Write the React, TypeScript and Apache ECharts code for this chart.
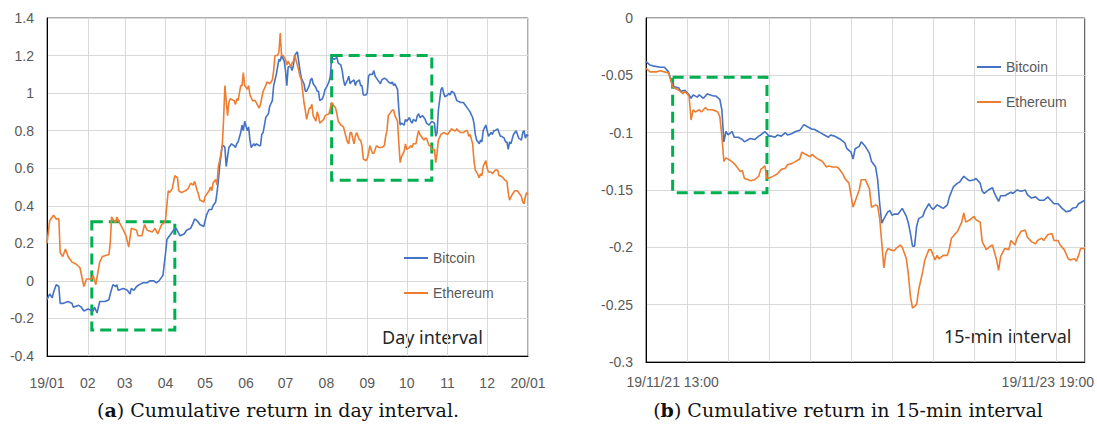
import React, { useEffect, useRef } from "react";
import * as echarts from "echarts";

// ---------- Panel (a): daily cumulative return, 2019-01-01 .. 2020-01-01 (day index) ----------
const dayMonthStarts = [0, 31, 59, 90, 120, 151, 181, 212, 243, 273, 304, 334, 365];
const dayTickText = ["19/01", "02", "03", "04", "05", "06", "07", "08", "09", "10", "11", "12", "20/01"];
const dayCategories = Array.from({ length: 366 }, (_, i) => String(i));

const btcDay = [
  [0,-0.10],[2,-0.07],[4,-0.09],[5,-0.06],[7,-0.02],[9,-0.03],[10,-0.12],[12,-0.12],[16,-0.11],[19,-0.12],
  [20,-0.14],[24,-0.13],[26,-0.14],[28,-0.16],[31,-0.15],[35,-0.16],[36,-0.14],[38,-0.17],[40,-0.11],[44,-0.11],
  [47,-0.10],[48,-0.07],[50,-0.02],[52,-0.03],[53,-0.02],[54,-0.05],[58,-0.04],[61,-0.05],[63,-0.07],[64,-0.04],
  [66,-0.05],[68,-0.03],[70,-0.02],[73,-0.01],[76,-0.01],[78,0.00],[81,0.00],[83,-0.01],[85,0.00],[87,0.02],
  [88,0.03],[90,0.15],[91,0.22],[93,0.24],[96,0.27],[98,0.28],[101,0.24],[104,0.25],[106,0.27],[109,0.28],
  [111,0.31],[112,0.33],[114,0.32],[116,0.30],[119,0.29],[120,0.32],[121,0.35],[123,0.38],[125,0.38],[126,0.40],
  [128,0.42],[129,0.47],[130,0.53],[131,0.61],[133,0.72],[134,0.72],[135,0.71],[136,0.61],[138,0.71],[139,0.72],
  [140,0.73],[142,0.72],[143,0.71],[144,0.73],[145,0.74],[147,0.79],[148,0.83],[149,0.80],[150,0.85],[152,0.80],
  [153,0.82],[154,0.75],[155,0.71],[157,0.73],[158,0.72],[159,0.73],[161,0.72],[162,0.72],[163,0.78],[164,0.79],
  [166,0.87],[167,0.88],[168,0.89],[169,0.93],[171,0.96],[172,1.04],[173,1.07],[174,1.10],[176,1.18],[177,1.17],
  [178,1.20],[180,1.17],[181,1.12],[182,1.04],[183,1.14],[185,1.14],[186,1.12],[187,1.15],[188,1.20],[190,1.22],
  [192,1.12],[193,1.08],[195,1.05],[196,1.01],[197,1.01],[199,1.04],[200,1.07],[201,1.08],[202,1.05],[204,1.03],
  [205,1.01],[206,1.01],[207,0.96],[209,0.97],[210,0.99],[211,1.02],[212,1.03],[214,1.06],[215,1.09],[216,1.19],
  [218,1.18],[220,1.19],[221,1.16],[223,1.15],[224,1.12],[225,1.07],[226,1.04],[228,1.07],[229,1.09],[230,1.05],
  [231,1.06],[233,1.07],[234,1.04],[235,1.06],[237,1.07],[238,1.04],[239,1.04],[240,0.99],[242,0.99],[243,1.00],
  [244,1.09],[245,1.10],[247,1.10],[248,1.12],[249,1.09],[250,1.08],[252,1.06],[253,1.05],[254,1.07],[256,1.08],
  [258,1.07],[259,1.06],[261,1.05],[262,1.06],[263,1.04],[264,1.05],[266,1.02],[267,0.91],[268,0.83],[269,0.84],
  [271,0.83],[272,0.86],[273,0.85],[275,0.87],[276,0.85],[277,0.84],[278,0.86],[280,0.85],[281,0.88],[282,0.89],
  [283,0.87],[285,0.88],[286,0.87],[287,0.86],[288,0.84],[290,0.83],[291,0.84],[292,0.85],[294,0.84],[295,0.77],
  [296,0.79],[297,0.91],[299,1.02],[300,1.03],[301,1.00],[302,0.98],[304,0.99],[305,1.00],[306,0.99],[307,1.01],
  [309,1.00],[310,0.98],[311,0.96],[314,0.95],[316,0.95],[318,0.93],[319,0.92],[321,0.90],[323,0.87],[324,0.84],
  [325,0.78],[326,0.75],[328,0.73],[329,0.75],[330,0.74],[331,0.80],[333,0.83],[334,0.80],[335,0.77],[337,0.79],
  [338,0.78],[339,0.80],[340,0.80],[342,0.81],[343,0.79],[344,0.77],[345,0.77],[347,0.76],[348,0.74],[349,0.74],
  [350,0.70],[351,0.74],[352,0.73],[354,0.78],[356,0.80],[358,0.76],[360,0.75],[361,0.79],[362,0.80],[363,0.76],
  [364,0.78],[365,0.77]
];

const ethDay = [
  [0,0.20],[2,0.32],[5,0.35],[7,0.33],[9,0.33],[10,0.15],[12,0.13],[14,0.17],[16,0.13],[19,0.10],
  [22,0.09],[25,0.07],[28,-0.03],[30,0.01],[34,0.01],[35,0.03],[37,-0.02],[40,0.10],[42,0.13],[47,0.14],
  [48,0.20],[49,0.34],[52,0.31],[53,0.34],[55,0.31],[58,0.27],[60,0.24],[62,0.18],[64,0.28],[68,0.27],
  [69,0.24],[72,0.24],[74,0.30],[76,0.27],[80,0.26],[82,0.28],[84,0.25],[87,0.30],[89,0.31],[90,0.33],
  [92,0.48],[93,0.47],[95,0.49],[97,0.56],[99,0.55],[100,0.48],[102,0.47],[105,0.48],[107,0.49],[109,0.52],
  [111,0.51],[112,0.53],[114,0.48],[115,0.46],[116,0.43],[119,0.42],[120,0.45],[123,0.48],[124,0.50],[125,0.48],
  [126,0.52],[128,0.54],[129,0.51],[130,0.61],[131,0.64],[133,0.72],[134,0.86],[135,1.04],[137,0.88],[138,0.95],
  [139,0.97],[142,0.96],[143,0.94],[144,0.97],[145,0.96],[147,1.04],[148,1.04],[149,1.11],[150,1.04],[152,1.02],
  [153,1.04],[154,0.99],[156,0.96],[158,0.96],[161,0.92],[162,0.94],[164,1.01],[166,1.04],[167,1.06],[169,1.05],
  [171,1.07],[172,1.12],[173,1.20],[175,1.20],[176,1.22],[177,1.32],[178,1.20],[179,1.20],[181,1.18],[182,1.15],
  [183,1.17],[185,1.14],[186,1.16],[187,1.17],[188,1.20],[190,1.15],[191,1.12],[192,1.09],[193,1.07],[195,0.95],
  [196,0.91],[197,0.86],[199,0.92],[200,0.92],[201,0.94],[202,0.88],[204,0.85],[205,0.90],[206,0.88],[207,0.84],
  [210,0.86],[211,0.88],[214,0.89],[215,0.92],[216,0.95],[218,0.93],[219,0.92],[220,0.89],[221,0.85],[223,0.83],
  [225,0.82],[226,0.79],[228,0.74],[229,0.73],[230,0.79],[231,0.79],[233,0.73],[234,0.77],[235,0.79],[237,0.75],
  [238,0.75],[239,0.72],[240,0.65],[242,0.64],[243,0.65],[244,0.68],[245,0.72],[247,0.68],[248,0.68],[249,0.70],
  [250,0.72],[252,0.71],[253,0.71],[254,0.71],[256,0.72],[257,0.77],[258,0.80],[259,0.88],[261,0.90],[262,0.91],
  [263,0.91],[264,0.88],[266,0.85],[267,0.73],[268,0.63],[269,0.66],[271,0.69],[272,0.73],[273,0.70],[275,0.71],
  [276,0.72],[277,0.71],[278,0.73],[280,0.73],[281,0.77],[282,0.80],[283,0.78],[285,0.76],[286,0.75],[287,0.76],
  [288,0.76],[290,0.72],[291,0.72],[292,0.70],[294,0.70],[295,0.63],[296,0.68],[297,0.75],[299,0.78],[301,0.79],
  [304,0.78],[305,0.79],[306,0.80],[307,0.81],[309,0.80],[310,0.80],[311,0.81],[312,0.80],[314,0.79],[316,0.79],
  [318,0.80],[319,0.80],[320,0.77],[321,0.78],[323,0.73],[324,0.64],[325,0.59],[326,0.58],[328,0.55],[329,0.57],
  [330,0.56],[331,0.61],[333,0.64],[334,0.60],[335,0.58],[337,0.58],[338,0.57],[339,0.58],[340,0.59],[342,0.59],
  [343,0.56],[344,0.56],[346,0.55],[347,0.54],[349,0.53],[350,0.47],[351,0.43],[353,0.46],[355,0.48],[357,0.48],
  [359,0.46],[360,0.45],[361,0.42],[362,0.41],[363,0.45],[364,0.47],[365,0.46]
];

const dayBoxA = [[34, 0.315], [97, -0.262]];
const dayBoxB = [[216, 1.2], [292, 0.536]];

// ---------- Panel (b): 15-min cumulative return (interval index) ----------
const minCategories = Array.from({ length: 215 }, (_, i) => String(i));
const minGridEvery = 20;
const minTickIdx = [13, 196];
const minTickText = ["19/11/21 13:00", "19/11/23 19:00"];

const btcMin = [
  [0,-0.038],[2,-0.041],[4,-0.042],[7,-0.043],[9,-0.043],[11,-0.047],[13,-0.059],[14,-0.060],[16,-0.061],[17,-0.064],
  [19,-0.063],[21,-0.067],[22,-0.070],[23,-0.067],[25,-0.069],[26,-0.067],[28,-0.070],[30,-0.066],[31,-0.067],[33,-0.068],
  [34,-0.068],[36,-0.071],[37,-0.080],[38,-0.108],[39,-0.099],[40,-0.102],[42,-0.099],[43,-0.104],[45,-0.104],[47,-0.106],
  [48,-0.108],[50,-0.106],[51,-0.105],[53,-0.106],[55,-0.103],[56,-0.102],[58,-0.099],[60,-0.103],[61,-0.103],[63,-0.104],
  [64,-0.102],[66,-0.103],[68,-0.100],[69,-0.102],[71,-0.101],[73,-0.099],[75,-0.098],[77,-0.093],[79,-0.095],[81,-0.097],
  [82,-0.097],[84,-0.099],[85,-0.100],[87,-0.102],[89,-0.104],[90,-0.102],[92,-0.103],[93,-0.104],[95,-0.106],[97,-0.109],
  [98,-0.114],[100,-0.117],[101,-0.123],[102,-0.114],[104,-0.112],[105,-0.108],[107,-0.112],[109,-0.118],[110,-0.125],[112,-0.130],
  [113,-0.141],[114,-0.162],[115,-0.179],[117,-0.172],[118,-0.169],[119,-0.168],[120,-0.172],[121,-0.171],[123,-0.171],[125,-0.166],
  [127,-0.173],[128,-0.179],[129,-0.188],[130,-0.199],[131,-0.199],[132,-0.182],[133,-0.175],[135,-0.173],[136,-0.168],[138,-0.162],
  [139,-0.165],[140,-0.167],[142,-0.163],[144,-0.165],[145,-0.166],[147,-0.163],[148,-0.156],[150,-0.147],[152,-0.144],[153,-0.143],
  [155,-0.138],[157,-0.141],[158,-0.142],[160,-0.141],[161,-0.140],[163,-0.144],[164,-0.151],[165,-0.153],[167,-0.150],[169,-0.148],
  [170,-0.153],[172,-0.160],[173,-0.155],[175,-0.155],[178,-0.152],[179,-0.153],[181,-0.150],[183,-0.151],[185,-0.150],[186,-0.154],
  [188,-0.157],[190,-0.156],[192,-0.159],[194,-0.159],[196,-0.156],[199,-0.162],[201,-0.162],[203,-0.166],[205,-0.169],[207,-0.168],
  [208,-0.166],[210,-0.165],[211,-0.162],[213,-0.160],[214,-0.159]
];

const ethMin = [
  [0,-0.044],[2,-0.047],[5,-0.047],[7,-0.046],[9,-0.047],[11,-0.048],[13,-0.060],[14,-0.061],[16,-0.063],[18,-0.066],
  [19,-0.064],[21,-0.068],[22,-0.089],[23,-0.080],[24,-0.082],[26,-0.080],[27,-0.082],[29,-0.078],[30,-0.080],[32,-0.080],
  [34,-0.081],[35,-0.082],[36,-0.086],[37,-0.103],[38,-0.125],[39,-0.122],[41,-0.124],[43,-0.127],[44,-0.129],[46,-0.134],
  [47,-0.133],[48,-0.140],[50,-0.141],[51,-0.142],[53,-0.141],[55,-0.138],[56,-0.132],[58,-0.129],[59,-0.140],[61,-0.139],
  [63,-0.137],[64,-0.136],[66,-0.132],[68,-0.131],[69,-0.128],[71,-0.127],[73,-0.125],[75,-0.123],[76,-0.117],[78,-0.119],
  [80,-0.121],[81,-0.119],[83,-0.122],[85,-0.124],[86,-0.125],[88,-0.130],[89,-0.129],[91,-0.130],[93,-0.130],[94,-0.131],
  [96,-0.136],[97,-0.140],[99,-0.144],[101,-0.165],[102,-0.160],[104,-0.150],[105,-0.141],[107,-0.141],[109,-0.149],[110,-0.165],
  [112,-0.163],[113,-0.164],[114,-0.175],[115,-0.196],[116,-0.218],[117,-0.205],[118,-0.201],[119,-0.202],[121,-0.203],[122,-0.201],
  [124,-0.198],[125,-0.200],[127,-0.210],[128,-0.224],[129,-0.243],[130,-0.253],[132,-0.250],[133,-0.237],[135,-0.221],[136,-0.211],
  [138,-0.202],[139,-0.202],[141,-0.211],[142,-0.207],[143,-0.210],[145,-0.207],[147,-0.207],[148,-0.201],[149,-0.192],[151,-0.188],
  [152,-0.186],[154,-0.178],[155,-0.170],[156,-0.178],[158,-0.176],[160,-0.173],[161,-0.176],[163,-0.178],[164,-0.195],[166,-0.202],
  [168,-0.199],[169,-0.198],[171,-0.211],[172,-0.220],[173,-0.208],[175,-0.201],[177,-0.202],[178,-0.194],[180,-0.198],[181,-0.192],
  [183,-0.186],[185,-0.185],[186,-0.191],[188,-0.195],[190,-0.197],[191,-0.194],[193,-0.192],[194,-0.194],[196,-0.189],[198,-0.188],
  [199,-0.194],[201,-0.194],[202,-0.198],[204,-0.202],[206,-0.210],[207,-0.211],[209,-0.210],[210,-0.212],[211,-0.207],[212,-0.201],
  [214,-0.201]
];

const minBox = [[13, -0.0517], [59, -0.1524]];

const seriesNames = ["Bitcoin", "Ethereum"];
const seriesColors = ["#4472C4", "#ED7D31"];

const labelStyle = { color: "#595959", fontSize: 14, fontFamily: "Liberation Sans, Arial, sans-serif" };
const gridLineColor = "#d9d9d9";

function lineSeries(name: string, color: string, data: number[][], axis: number, boxes: number[][][]) {
  const s: any = {
    name,
    type: "line",
    xAxisIndex: axis,
    yAxisIndex: axis,
    data,
    symbol: "none",
    showSymbol: false,
    lineStyle: { color, width: 1.6 },
    itemStyle: { color },
    z: 3,
  };
  if (boxes.length) {
    s.markArea = {
      silent: true,
      label: { show: false },
      itemStyle: {
        color: "rgba(0,0,0,0)",
        borderColor: "#00B050",
        borderWidth: 3,
        borderType: [11, 6],
      },
      data: boxes.map((b) => [{ coord: b[0] }, { coord: b[1] }]),
    };
  }
  return s;
}

export default function App() {
  const ref = useRef<HTMLDivElement>(null);

  useEffect(() => {
    if (!ref.current) return;
    const chart = echarts.init(ref.current, null, { renderer: "svg" });

    const legendBase = {
      orient: "vertical",
      padding: 0,
      itemGap: 21,
      itemWidth: 24,
      itemHeight: 2,
      icon: "rect",
      selectedMode: false,
      data: seriesNames,
      textStyle: { ...labelStyle, fontSize: 14 },
    };

    const option: any = {
      animation: false,
      grid: [
        { left: 47, top: 18, width: 481, height: 338, show: true, borderColor: "#595959", borderWidth: 1 },
        { left: 646, top: 18, width: 441, height: 344, show: true, borderColor: "#404040", borderWidth: 1 },
      ],
      xAxis: [
        {
          type: "category",
          gridIndex: 0,
          data: dayCategories,
          boundaryGap: false,
          axisLine: { onZero: false, lineStyle: { color: "#000", width: 1 } },
          axisTick: { show: false },
          axisLabel: {
            ...labelStyle,
            margin: 20,
            interval: (i: number) => dayMonthStarts.includes(i),
            formatter: (v: string) => {
              const k = dayMonthStarts.indexOf(Number(v));
              return k >= 0 ? dayTickText[k] : "";
            },
          },
          splitLine: {
            show: true,
            interval: (i: number) => dayMonthStarts.includes(i),
            lineStyle: { color: gridLineColor, width: 1 },
          },
        },
        {
          type: "category",
          gridIndex: 1,
          data: minCategories,
          boundaryGap: false,
          axisLine: { onZero: false, lineStyle: { color: "#000", width: 1 } },
          axisTick: { show: false },
          axisLabel: {
            ...labelStyle,
            margin: 13,
            interval: (i: number) => minTickIdx.includes(i),
            formatter: (v: string) => {
              const k = minTickIdx.indexOf(Number(v));
              return k >= 0 ? minTickText[k] : "";
            },
          },
          splitLine: {
            show: true,
            interval: (i: number) => i % minGridEvery === 0,
            lineStyle: { color: gridLineColor, width: 1 },
          },
        },
      ],
      yAxis: [
        {
          type: "value",
          gridIndex: 0,
          min: -0.4,
          max: 1.4,
          interval: 0.2,
          axisLine: { show: true, onZero: false, lineStyle: { color: "#000", width: 1 } },
          axisTick: { show: false },
          axisLabel: { ...labelStyle, margin: 13 },
          splitLine: { lineStyle: { color: gridLineColor, width: 1 } },
        },
        {
          type: "value",
          gridIndex: 1,
          min: -0.3,
          max: 0,
          interval: 0.05,
          axisLine: { show: true, onZero: false, lineStyle: { color: "#000", width: 1 } },
          axisTick: { show: false },
          axisLabel: { ...labelStyle, margin: 13 },
          splitLine: { lineStyle: { color: gridLineColor, width: 1 } },
        },
      ],
      legend: [
        { ...legendBase, left: 404, top: 251 },
        { ...legendBase, left: 977, top: 60 },
      ],
      series: [
        lineSeries(seriesNames[0], seriesColors[0], btcDay, 0, []),
        lineSeries(seriesNames[1], seriesColors[1], ethDay, 0, [dayBoxA, dayBoxB]),
        lineSeries(seriesNames[0], seriesColors[0], btcMin, 1, []),
        lineSeries(seriesNames[1], seriesColors[1], ethMin, 1, [minBox]),
      ],
      graphic: [
        {
          type: "text",
          x: 382,
          y: 337,
          style: {
            text: "Day interval",
            font: '18px "Noto Sans"',
            fill: "#262626",
            textVerticalAlign: "middle",
            verticalAlign: "middle",
          },
        },
        {
          type: "text",
          x: 944,
          y: 336,
          style: {
            text: "15-min interval",
            font: '18px "Noto Sans"',
            fill: "#262626",
            textVerticalAlign: "middle",
            verticalAlign: "middle",
          },
        },
        {
          type: "text",
          x: 278,
          y: 410,
          style: {
            text: "{n|(}{b|a}{n|) Cumulative return in day interval.}",
            font: '19px "DejaVu Serif"',
            fill: "#111",
            textAlign: "center",
            align: "center",
            textVerticalAlign: "middle",
            verticalAlign: "middle",
            rich: {
              n: { fontSize: 19, fontFamily: "DejaVu Serif", fill: "#111" },
              b: { fontSize: 19, fontFamily: "DejaVu Serif", fontWeight: "bold", fill: "#111" },
            },
          },
        },
        {
          type: "text",
          x: 848,
          y: 410,
          style: {
            text: "{n|(}{b|b}{n|) Cumulative return in 15-min interval}",
            font: '19px "DejaVu Serif"',
            fill: "#111",
            textAlign: "center",
            align: "center",
            textVerticalAlign: "middle",
            verticalAlign: "middle",
            rich: {
              n: { fontSize: 19, fontFamily: "DejaVu Serif", fill: "#111" },
              b: { fontSize: 19, fontFamily: "DejaVu Serif", fontWeight: "bold", fill: "#111" },
            },
          },
        },
      ],
    };

    chart.setOption(option);
    return () => chart.dispose();
  }, []);

  return (
    <div
      ref={ref}
      style={{ position: "fixed", left: 0, top: 0, width: 1097, height: 429, background: "#fff" }}
    />
  );
}
